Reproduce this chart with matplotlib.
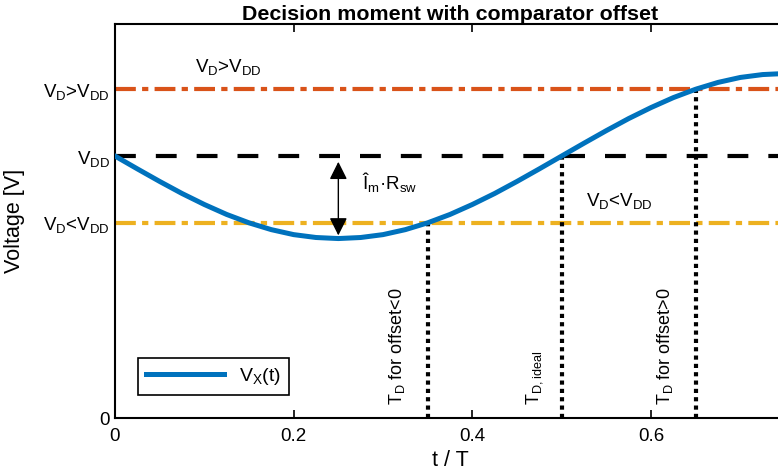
import matplotlib.pyplot as plt
import numpy as np

plt.rcParams['font.family'] = ['Liberation Sans', 'DejaVu Sans']
plt.rcParams['mathtext.default'] = 'regular'

# V_X(t), t / T in steps of 0.025
t = np.array([0.0, 0.025, 0.05, 0.075, 0.1, 0.125, 0.15, 0.175, 0.2, 0.225,
              0.25, 0.275, 0.3, 0.325, 0.35, 0.375, 0.4, 0.425, 0.45, 0.475,
              0.5, 0.525, 0.55, 0.575, 0.6, 0.625, 0.65, 0.675, 0.7, 0.725, 0.75])
vx = np.array([1.000, 0.951, 0.903, 0.857, 0.815, 0.777, 0.745, 0.719, 0.700, 0.689,
               0.685, 0.689, 0.700, 0.719, 0.745, 0.777, 0.815, 0.857, 0.903, 0.951,
               1.000, 1.049, 1.097, 1.143, 1.185, 1.223, 1.255, 1.281, 1.300, 1.311, 1.315])

vdd = 1.0
v_low = 0.745
v_high = 1.255
t_decide = [0.35, 0.5, 0.65]
v_decide = [v_low, vdd, v_high]

yticks = [0, v_low, vdd, v_high]
ylabels = ['0', r'$V_D$<$V_{DD}$', r'$V_{DD}$', r'$V_D$>$V_{DD}$']

blue = '#0072BD'
red = '#D95319'
yellow = '#EDB120'

fig = plt.figure(figsize=(7.78, 4.73), dpi=100)
ax = fig.add_axes([115/778, 55/473, 670/778, 394/473])

ax.plot(t, vx, color=blue, lw=3.6, label=r'$V_X$(t)', zorder=3,
        solid_joinstyle='round')
ax.axhline(v_high, color=red, lw=3, ls=(0, (5, 1.5, 1.5, 1.5)), zorder=2)
ax.axhline(vdd, color='k', lw=3, ls=(0, (5, 4.8)), zorder=2)
ax.axhline(v_low, color=yellow, lw=3, ls=(0, (5, 1.5, 1.5, 1.5)), zorder=2)

for td, vd in zip(t_decide, v_decide):
    ax.plot([td, td], [0, vd], color='k', lw=3, ls=(0, (1, 1)),
            dash_capstyle='butt', zorder=2)

# amplitude arrow, from V_DD down to the minimum of V_X
ax.annotate('', xy=(0.25, 0.697), xytext=(0.25, 0.978),
            arrowprops=dict(arrowstyle='<|-|>', color='k', lw=1,
                            mutation_scale=27, shrinkA=0, shrinkB=0))
ax.text(0.277, 0.9, r'$Î_m$·$R_{sw}$', fontsize=13.5, va='center')

ax.text(0.09, 1.34, r'$V_D$>$V_{DD}$', fontsize=13.5, va='center')
ax.text(0.527, 0.83, r'$V_D$<$V_{DD}$', fontsize=13.5, va='center')

ax.text(0.316, 0.05, r'$T_D$ for offset<0', rotation=90, fontsize=13,
        ha='center', va='bottom')
ax.text(0.47, 0.05, r'$T_{D,ideal}$', rotation=90, fontsize=13,
        ha='center', va='bottom')
ax.text(0.616, 0.05, r'$T_D$ for offset>0', rotation=90, fontsize=13,
        ha='center', va='bottom')

ax.set_xlim(0, 0.75)
ax.set_ylim(0, 1.504)
ax.set_xticks([0, 0.2, 0.4, 0.6])
ax.set_xticklabels(['0', '0.2', '0.4', '0.6'])
ax.set_yticks(yticks)
ax.set_yticklabels(ylabels)
ax.tick_params(direction='in', top=True, right=True, length=6, width=1.2,
               labelsize=13.5, colors='k')
ax.tick_params(axis='x', pad=7)
for s in ax.spines.values():
    s.set_linewidth(1.5)

ax.set_xlabel('t / T', fontsize=15.5, labelpad=4)
ax.set_ylabel('Voltage [V]', fontsize=15.5)
ax.yaxis.set_label_coords(-0.134, 0.5)
ax.set_title('Decision moment with comparator offset', fontsize=15.4,
             fontweight='bold', pad=3)

leg = ax.legend(loc='lower left', fontsize=14, handlelength=4.0,
                borderaxespad=1.2, fancybox=False, edgecolor='k', framealpha=1)
leg.get_frame().set_linewidth(1.2)

fig.savefig('out.png', dpi=100)
